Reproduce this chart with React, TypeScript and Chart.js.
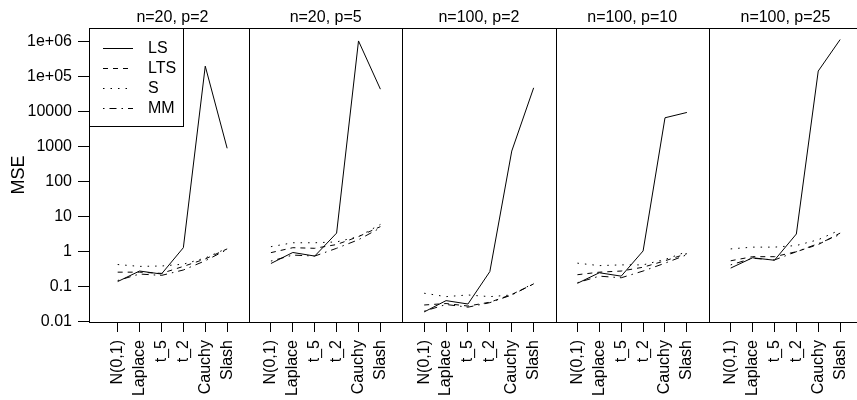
import { useEffect, useRef } from "react";
import { Chart, registerables } from "chart.js";

Chart.register(...registerables);

const categories = ["N(0,1)", "Laplace", "t_5", "t_2", "Cauchy", "Slash"];
const panels = ["n=20, p=2", "n=20, p=5", "n=100, p=2", "n=100, p=10", "n=100, p=25"];
const yTickValues = [0.01, 0.1, 1, 10, 100, 1000, 10000, 1e5, 1e6];
const yTickLabels = ["0.01", "0.1", "1", "10", "100", "1000", "10000", "1e+05", "1e+06"];
const seriesNames = ["LS", "LTS", "S", "MM"];

// values per panel (6 categories each), panels in order above
const LS = [
  [0.14, 0.28, 0.23, 1.3, 2.0e5, 900],
  [0.46, 0.95, 0.75, 3.4, 1.05e6, 4.4e4],
  [0.019, 0.04, 0.032, 0.27, 750, 4.8e4],
  [0.125, 0.25, 0.2, 1.05, 6700, 9500],
  [0.34, 0.67, 0.57, 3.2, 1.45e5, 1.15e6],
];
const LTS = [
  [0.26, 0.26, 0.24, 0.38, 0.62, 1.2],
  [0.94, 1.3, 1.25, 1.6, 2.7, 5.2],
  [0.03, 0.033, 0.028, 0.036, 0.06, 0.12],
  [0.22, 0.26, 0.28, 0.36, 0.55, 0.88],
  [0.55, 0.72, 0.72, 1.0, 1.6, 3.4],
];
const S = [
  [0.43, 0.38, 0.39, 0.44, 0.66, 1.25],
  [1.39, 1.8, 1.8, 1.9, 2.7, 6.0],
  [0.065, 0.052, 0.058, 0.052, 0.058, 0.125],
  [0.47, 0.4, 0.42, 0.42, 0.6, 1.0],
  [1.2, 1.35, 1.35, 1.5, 2.2, 4.2],
];
const MM = [
  [0.15, 0.23, 0.21, 0.3, 0.55, 1.15],
  [0.54, 0.8, 0.75, 1.25, 2.2, 4.8],
  [0.02, 0.031, 0.026, 0.035, 0.058, 0.12],
  [0.13, 0.2, 0.18, 0.28, 0.47, 0.82],
  [0.42, 0.65, 0.58, 1.0, 1.7, 3.1],
];

const FONT = '"Liberation Sans", Arial, Helvetica, sans-serif';
const dashes: number[][] = [[], [5, 5], [1.5, 6], [1.5, 5, 7, 5]];
const PANEL_STEP = 7;

function buildPoints(values: number[][]) {
  const pts: { x: number; y: number | null }[] = [];
  values.forEach((row, k) => {
    row.forEach((v, j) => pts.push({ x: PANEL_STEP * k + j + 1, y: v }));
    pts.push({ x: PANEL_STEP * k + PANEL_STEP, y: null });
  });
  return pts;
}

const tickPositions: number[] = [];
panels.forEach((_, k) => categories.forEach((_, j) => tickPositions.push(PANEL_STEP * k + j + 1)));

const framePlugin = {
  id: "frames",
  afterDatasetsDraw(chart: any) {
    const { ctx, chartArea, scales } = chart;
    const xs = scales.x;
    const top = Math.round(chartArea.top) + 0.5;
    const bottom = Math.round(chartArea.bottom) + 0.5;
    ctx.save();
    ctx.strokeStyle = "#000";
    ctx.lineWidth = 1;
    ctx.setLineDash([]);
    ctx.beginPath();
    ctx.moveTo(chartArea.left, top);
    ctx.lineTo(chartArea.right, top);
    ctx.moveTo(chartArea.left, bottom);
    ctx.lineTo(chartArea.right, bottom);
    const left = Math.round(chartArea.left) + 0.5;
    ctx.moveTo(left, top);
    ctx.lineTo(left, bottom);
    for (let k = 1; k < panels.length; k++) {
      const px = Math.round(xs.getPixelForValue(PANEL_STEP * k)) + 0.5;
      ctx.moveTo(px, top);
      ctx.lineTo(px, bottom);
    }
    ctx.stroke();

    // panel titles
    ctx.fillStyle = "#000";
    ctx.font = `16px ${FONT}`;
    ctx.textAlign = "center";
    ctx.textBaseline = "alphabetic";
    panels.forEach((p, k) => {
      const cx = xs.getPixelForValue(PANEL_STEP * k + 3.5);
      ctx.fillText(p, cx, 22);
    });

    // y axis title
    ctx.save();
    ctx.translate(19, (chartArea.top + chartArea.bottom) / 2);
    ctx.rotate(-Math.PI / 2);
    ctx.font = `18px ${FONT}`;
    ctx.textAlign = "center";
    ctx.textBaseline = "middle";
    ctx.fillText("MSE", 0, 0);
    ctx.restore();

    // legend
    const lx = left;
    const ly = top;
    ctx.fillStyle = "#fff";
    ctx.fillRect(lx, ly, 94, 98);
    ctx.strokeRect(lx, ly, 94, 98);
    ctx.font = `16px ${FONT}`;
    ctx.textAlign = "left";
    ctx.textBaseline = "middle";
    seriesNames.forEach((name, i) => {
      const yy = Math.round(47.5 + i * 20.3) + 0.5;
      ctx.setLineDash(dashes[i]);
      ctx.beginPath();
      ctx.moveTo(103, yy);
      ctx.lineTo(133, yy);
      ctx.stroke();
      ctx.fillStyle = "#000";
      ctx.fillText(name, 148, yy);
    });
    ctx.restore();
  },
};

export default function App() {
  const ref = useRef<HTMLCanvasElement | null>(null);
  useEffect(() => {
    if (!ref.current) return;
    const all = [LS, LTS, S, MM];
    const chart = new Chart(ref.current, {
      type: "line",
      data: {
        datasets: all.map((vals, i) => ({
          label: seriesNames[i],
          data: buildPoints(vals),
          borderColor: "#000",
          borderWidth: 1,
          borderDash: dashes[i],
          pointRadius: 0,
          fill: false,
          tension: 0,
          spanGaps: false,
        })),
      },
      options: {
        responsive: false,
        devicePixelRatio: 1,
        animation: false,
        parsing: { xAxisKey: "x", yAxisKey: "y" },
        layout: { padding: { top: 28, left: 0, right: 0, bottom: 0 } },
        plugins: { legend: { display: false }, tooltip: { enabled: false } },
        scales: {
          x: {
            type: "linear",
            min: -0.31,
            max: 34.77,
            border: { display: false },
            grid: { drawOnChartArea: false, drawTicks: true, tickLength: 10, color: "#000" },
            afterBuildTicks: (scale: any) => {
              scale.ticks = tickPositions.map((v) => ({ value: v }));
            },
            afterFit: (scale: any) => {
              scale.height = 78;
              scale.paddingLeft = 0;
              scale.paddingRight = 0;
              scale.paddingTop = 0;
              scale.paddingBottom = 0;
            },
            ticks: {
              autoSkip: false,
              minRotation: 90,
              maxRotation: 90,
              padding: 8,
              color: "#000",
              font: { family: FONT, size: 16 },
              callback: (value: any) => categories[(Math.round(Number(value)) % PANEL_STEP) - 1] ?? "",
            },
          },
          y: {
            type: "logarithmic",
            min: 0.0098,
            max: 2.46e6,
            border: { display: false },
            grid: { drawOnChartArea: false, drawTicks: true, tickLength: 11, color: "#000" },
            afterBuildTicks: (scale: any) => {
              scale.ticks = yTickValues.map((v) => ({ value: v }));
            },
            afterFit: (scale: any) => {
              scale.width = 89;
              scale.paddingLeft = 0;
              scale.paddingRight = 0;
              scale.paddingTop = 0;
              scale.paddingBottom = 0;
            },
            ticks: {
              autoSkip: false,
              padding: 6,
              color: "#000",
              font: { family: FONT, size: 16 },
              callback: (value: any) => {
                const idx = yTickValues.findIndex((t) => Math.abs(Math.log10(t) - Math.log10(Number(value))) < 1e-6);
                return idx >= 0 ? yTickLabels[idx] : "";
              },
            },
          },
        },
      },
      plugins: [framePlugin],
    } as any);
    return () => chart.destroy();
  }, []);
  return (
    <div style={{ position: "fixed", left: 0, top: 0, width: 857, height: 400, overflow: "hidden", background: "#fff" }}>
      <canvas ref={ref} width={857} height={400} style={{ display: "block" }} />
    </div>
  );
}
